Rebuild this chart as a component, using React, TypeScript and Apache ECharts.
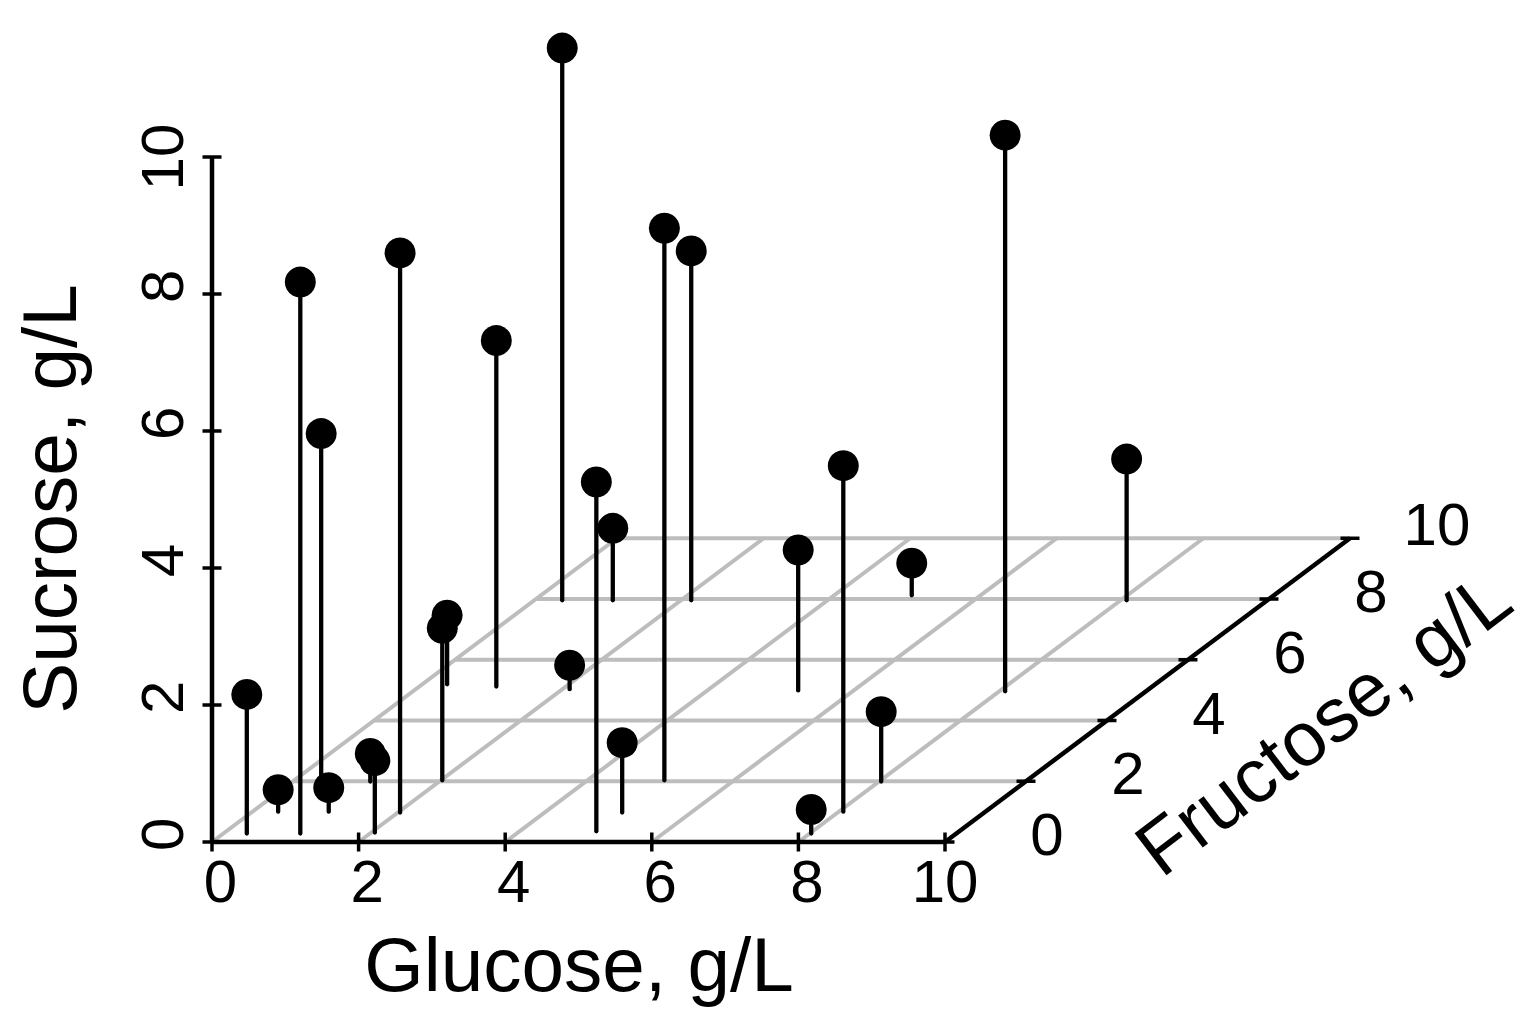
import React, { useEffect, useRef } from "react";
import * as echarts from "echarts";

// Values (g/L)
const glucose = [0.32, 0.35, 1.05, 0.39, 1.04, 1.06, 2.05, 2.03, 2.02, 0.34, 1.05, 0.38, 2.1, 5.05, 1.07, 5.06, 5.05, 2.14, 5.24, 8.02, 8.06, 8.03, 5.06, 8.08, 8.08];
const fructose = [0.28, 1.0, 0.28, 1.99, 1.0, 1.99, 0.31, 0.97, 2.03, 5.19, 5.12, 7.96, 5.03, 0.35, 7.96, 0.97, 2.03, 7.96, 4.99, 0.28, 1.0, 1.99, 8.12, 4.96, 7.96];
const sucrose = [2.03, 0.32, 8.05, 5.08, 0.35, 0.41, 1.05, 8.17, 2.22, 1.01, 5.05, 8.06, 0.35, 5.1, 1.05, 1.02, 8.06, 5.1, 2.05, 0.35, 5.05, 1.02, 0.47, 8.12, 2.06];
const ticks = [0, 2, 4, 6, 8, 10];
const titleGlucose = "Glucose, g/L";
const titleSucrose = "Sucrose, g/L";
const titleFructose = "Fructose, g/L";

// Oblique projection of the fructose axis onto the glucose/sucrose plane
const K = 0.5525;
const M = 0.4434;
const project = (g: number, f: number, s: number) => [g + K * f, s + M * f];

const FONT = '"Liberation Sans", Arial, Helvetica, sans-serif';
const BLACK = "#000000";
const GRAY = "#bdbdbd";

const seg = (a: number[], b: number[]) => [a[0], a[1], b[0], b[1]];

const floorGrid = [
  ...ticks.slice(0, 5).map((g) => seg(project(g, 0, 0), project(g, 10, 0))),
  ...ticks.slice(1).map((f) => seg(project(0, f, 0), project(10, f, 0))),
];
const axisSegments = [
  seg(project(0, 0, 0), project(10, 0, 0)),
  seg(project(0, 0, 0), project(0, 0, 10)),
  seg(project(10, 0, 0), project(10, 10, 0)),
];
const stems = glucose.map((g, i) => seg(project(g, fructose[i], 0), project(g, fructose[i], sucrose[i])));
const dots = glucose.map((g, i) => project(g, fructose[i], sucrose[i]));

const segmentSeries = (data: number[][], color: string, width: number, z: number, cap = "butt") => ({
  type: "custom",
  coordinateSystem: "cartesian2d",
  z,
  silent: true,
  clip: false,
  encode: { x: [0, 2], y: [1, 3] },
  data,
  renderItem: (_p: any, api: any) => {
    const a = api.coord([api.value(0), api.value(1)]);
    const b = api.coord([api.value(2), api.value(3)]);
    return {
      type: "line",
      shape: { x1: a[0], y1: a[1], x2: b[0], y2: b[1] },
      style: { stroke: color, lineWidth: width, lineCap: cap, fill: null },
    };
  },
});

// Ticks cross their axis; dir 0 = vertical mark, 1 = horizontal mark
const tickData = [
  ...ticks.map((t) => [...project(t, 0, 0), 0]),
  ...ticks.map((t) => [...project(0, 0, t), 1]),
  ...ticks.map((t) => [...project(10, t, 0), 1]),
];
const tickSeries = {
  type: "custom",
  coordinateSystem: "cartesian2d",
  z: 4,
  silent: true,
  clip: false,
  encode: { x: 0, y: 1 },
  data: tickData,
  renderItem: (_p: any, api: any) => {
    const c = api.coord([api.value(0), api.value(1)]);
    const horizontal = api.value(2) === 1;
    const h = 9.5;
    return {
      type: "line",
      shape: horizontal
        ? { x1: c[0] - h, y1: c[1], x2: c[0] + h, y2: c[1] }
        : { x1: c[0], y1: c[1] - h, x2: c[0], y2: c[1] + h },
      style: { stroke: BLACK, lineWidth: 3.5, fill: null },
    };
  },
};

const labelSeries = (kind: "x" | "y" | "z") => ({
  type: "custom",
  coordinateSystem: "cartesian2d",
  z: 6,
  silent: true,
  clip: false,
  encode: { x: 0, y: 1 },
  data: ticks.map((t) =>
    kind === "x" ? [...project(t, 0, 0), t] : kind === "y" ? [...project(0, 0, t), t] : [...project(10, t, 0), t]
  ),
  renderItem: (_p: any, api: any) => {
    const c = api.coord([api.value(0), api.value(1)]);
    const text = String(api.value(2));
    const one = text.length === 1;
    let dx = 0;
    let dy = 0;
    let rotation = 0;
    if (kind === "x") {
      dx = one ? 8.5 : 0;
      dy = 39;
    } else if (kind === "y") {
      dx = -49.5;
      dy = one ? -7.7 : 0;
      rotation = Math.PI / 2;
    } else {
      dx = one ? 102 : 87;
      dy = one ? -7.5 : -14;
    }
    return {
      type: "text",
      x: c[0] + dx,
      y: c[1] + dy,
      rotation,
      style: { text, x: 0, y: 0, align: "center", verticalAlign: "middle", fill: BLACK, font: `60px ${FONT}` },
    };
  },
});

const titleStyle = (text: string) => ({
  text,
  x: 0,
  y: 0,
  align: "center",
  verticalAlign: "middle",
  fill: BLACK,
  font: `76.5px ${FONT}`,
});

export default function App() {
  const ref = useRef<HTMLDivElement>(null);
  useEffect(() => {
    document.body.style.margin = "0";
    const chart = echarts.init(ref.current!, null, { renderer: "svg" });
    chart.setOption({
      animation: false,
      backgroundColor: "#ffffff",
      grid: { left: 212, top: 20, width: 1319.4, height: 822, containLabel: false },
      xAxis: { type: "value", min: 0, max: 18, interval: 2, axisLine: { show: false }, axisTick: { show: false }, axisLabel: { show: false }, splitLine: { show: false } },
      yAxis: { type: "value", min: 0, max: 12, interval: 2, axisLine: { show: false }, axisTick: { show: false }, axisLabel: { show: false }, splitLine: { show: false } },
      graphic: [
        { type: "text", x: 579, y: 964, style: titleStyle(titleGlucose) },
        { type: "text", x: 49, y: 499, rotation: Math.PI / 2, style: titleStyle(titleSucrose) },
        { type: "text", x: 1323, y: 723, rotation: 0.65, style: titleStyle(titleFructose) },
      ],
      series: [
        segmentSeries(floorGrid, GRAY, 4, 1),
        segmentSeries(axisSegments, BLACK, 4.5, 3),
        tickSeries,
        segmentSeries(stems, BLACK, 4.3, 5, "round"),
        { type: "scatter", z: 6, silent: true, clip: false, data: dots, symbol: "circle", symbolSize: 31, itemStyle: { color: BLACK, opacity: 1 } },
        labelSeries("x"),
        labelSeries("y"),
        labelSeries("z"),
      ],
    });
    return () => chart.dispose();
  }, []);
  return <div ref={ref} style={{ position: "absolute", left: 0, top: 0, width: 1538, height: 1020 }} />;
}
